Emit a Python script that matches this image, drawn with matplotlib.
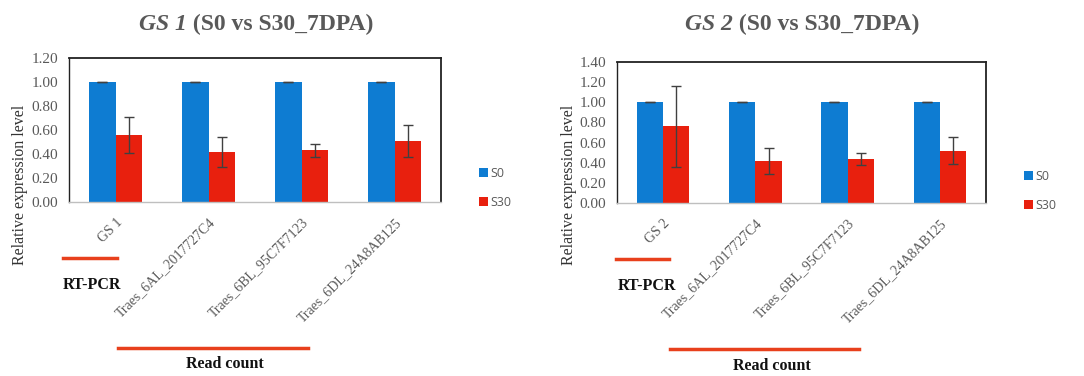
import matplotlib
matplotlib.use('Agg')
import matplotlib.pyplot as plt
import numpy as np
from matplotlib.lines import Line2D

W, H = 1084, 376

categories_1 = ["GS 1", "Traes_6AL_2017727C4", "Traes_6BL_95C7F7123", "Traes_6DL_24A8AB125"]
categories_2 = ["GS 2", "Traes_6AL_2017727C4", "Traes_6BL_95C7F7123", "Traes_6DL_24A8AB125"]
s0_1 = [1.00, 1.00, 1.00, 1.00]
s0_err_1 = [0.0, 0.0, 0.0, 0.0]
s30_1 = [0.56, 0.42, 0.43, 0.51]
s30_err_1 = [0.15, 0.125, 0.055, 0.135]
s0_2 = [1.00, 1.00, 1.00, 1.00]
s0_err_2 = [0.0, 0.0, 0.0, 0.0]
s30_2 = [0.76, 0.42, 0.44, 0.52]
s30_err_2 = [0.40, 0.13, 0.06, 0.135]
yticks_1 = [0.0, 0.2, 0.4, 0.6, 0.8, 1.0, 1.2]
yticks_2 = [0.0, 0.2, 0.4, 0.6, 0.8, 1.0, 1.2, 1.4]
series_names = ["S0", "S30"]
titles = [("GS 1", " (S0 vs S30_7DPA)"), ("GS 2", " (S0 vs S30_7DPA)")]

BLUE = "#0E7CD2"
RED = "#E8200E"
LINE_RED = "#E8401C"
GRAY = "#595959"
SERIF = "Liberation Serif"

fig = plt.figure(figsize=(W / 100, H / 100), dpi=100)
fig.patch.set_facecolor("white")


def fx(x):
    return x / W


def fy(y):
    return 1 - y / H


panels = [
    dict(cats=categories_1, s0=s0_1, s0e=s0_err_1, s30=s30_1, s30e=s30_err_1, yt=yticks_1,
         rect=(69, 58, 441, 202), title=titles[0], tc=(256, 24), ylab=(20, 185),
         leg=(468, 188), rt_line=(63, 117, 258), rt_text=(92, 285),
         rc_line=(118, 308, 348), rc_text=(225, 364)),
    dict(cats=categories_2, s0=s0_2, s0e=s0_err_2, s30=s30_2, s30e=s30_err_2, yt=yticks_2,
         rect=(617, 62, 986, 203), title=titles[1], tc=(802, 24), ylab=(569, 185),
         leg=(1013, 191), rt_line=(616, 669, 259), rt_text=(647, 286),
         rc_line=(670, 859, 349), rc_text=(772, 366)),
]

renderer = fig.canvas.get_renderer()

for p in panels:
    x0, y0, x1, y1 = p["rect"]
    ax = fig.add_axes([fx(x0), fy(y1), (x1 - x0) / W, (y1 - y0) / H])
    x = np.arange(len(p["cats"]))
    bw = 0.285
    ekw = dict(ecolor="#404040", elinewidth=1.0, capsize=3.5, capthick=1.0)
    ax.bar(x - bw / 2, p["s0"], bw, yerr=p["s0e"], color=BLUE, label=series_names[0], error_kw=ekw, zorder=2)
    ax.bar(x + bw / 2, p["s30"], bw, yerr=p["s30e"], color=RED, label=series_names[1], error_kw=ekw, zorder=2)
    ax.set_xlim(-0.5, len(p["cats"]) - 0.5)
    ax.set_ylim(0, p["yt"][-1])
    ax.set_yticks(p["yt"])
    ax.set_yticklabels([f"{v:.2f}" for v in p["yt"]], fontfamily=SERIF, fontsize=11, color=GRAY)
    ax.set_xticks(x)
    ax.set_xticklabels(p["cats"], rotation=45, ha="right", va="top", rotation_mode="anchor",
                       fontfamily=SERIF, fontsize=10, color=GRAY)
    ax.tick_params(axis="both", length=0)
    ax.tick_params(axis="y", pad=8)
    ax.tick_params(axis="x", pad=10)
    for s in ["top", "right", "left"]:
        ax.spines[s].set_color("#222222")
        ax.spines[s].set_linewidth(1.3)
    ax.spines["left"].set_linewidth(1.0)
    ax.spines["bottom"].set_color("#BFBFBF")
    ax.spines["bottom"].set_linewidth(1.0)

    lx, ly = p["leg"]
    ax.legend(loc="center left", bbox_to_anchor=(fx(lx), fy(ly)), bbox_transform=fig.transFigure,
              frameon=False, handlelength=0.7, handleheight=0.7, handletextpad=0.2,
              labelspacing=1.25, prop=dict(family="Open Sans", size=9), labelcolor=GRAY)

    # title: bold italic gene name + bold rest
    tcx, tcy = p["tc"]
    t1 = fig.text(0, 0, p["title"][0], fontfamily=SERIF, fontweight="bold", fontstyle="italic",
                  fontsize=17, color=GRAY)
    t2 = fig.text(0, 0, p["title"][1], fontfamily=SERIF, fontweight="bold", fontsize=17, color=GRAY)
    w1 = t1.get_window_extent(renderer).width
    w2 = t2.get_window_extent(renderer).width
    start = tcx - (w1 + w2) / 2
    t1.set_position((fx(start), fy(tcy)))
    t2.set_position((fx(start + w1), fy(tcy)))
    t1.set_va("center")
    t2.set_va("center")

    fig.text(fx(p["ylab"][0]), fy(p["ylab"][1]), "Relative expression level", rotation=90,
             ha="center", va="center", fontfamily=SERIF, fontsize=11.5, color="#333333")

    a, b, yy = p["rt_line"]
    fig.add_artist(Line2D([fx(a), fx(b)], [fy(yy), fy(yy)], color=LINE_RED, lw=2.5,
                          transform=fig.transFigure))
    fig.text(fx(p["rt_text"][0]), fy(p["rt_text"][1]), "RT-PCR", ha="center", va="center",
             fontfamily=SERIF, fontweight="bold", fontsize=11.5, color="#111111")
    a, b, yy = p["rc_line"]
    fig.add_artist(Line2D([fx(a), fx(b)], [fy(yy), fy(yy)], color=LINE_RED, lw=2.5,
                          transform=fig.transFigure))
    fig.text(fx(p["rc_text"][0]), fy(p["rc_text"][1]), "Read count", ha="center", va="center",
             fontfamily=SERIF, fontweight="bold", fontsize=11.5, color="#111111")

fig.savefig("out.png", dpi=100, facecolor="white")
